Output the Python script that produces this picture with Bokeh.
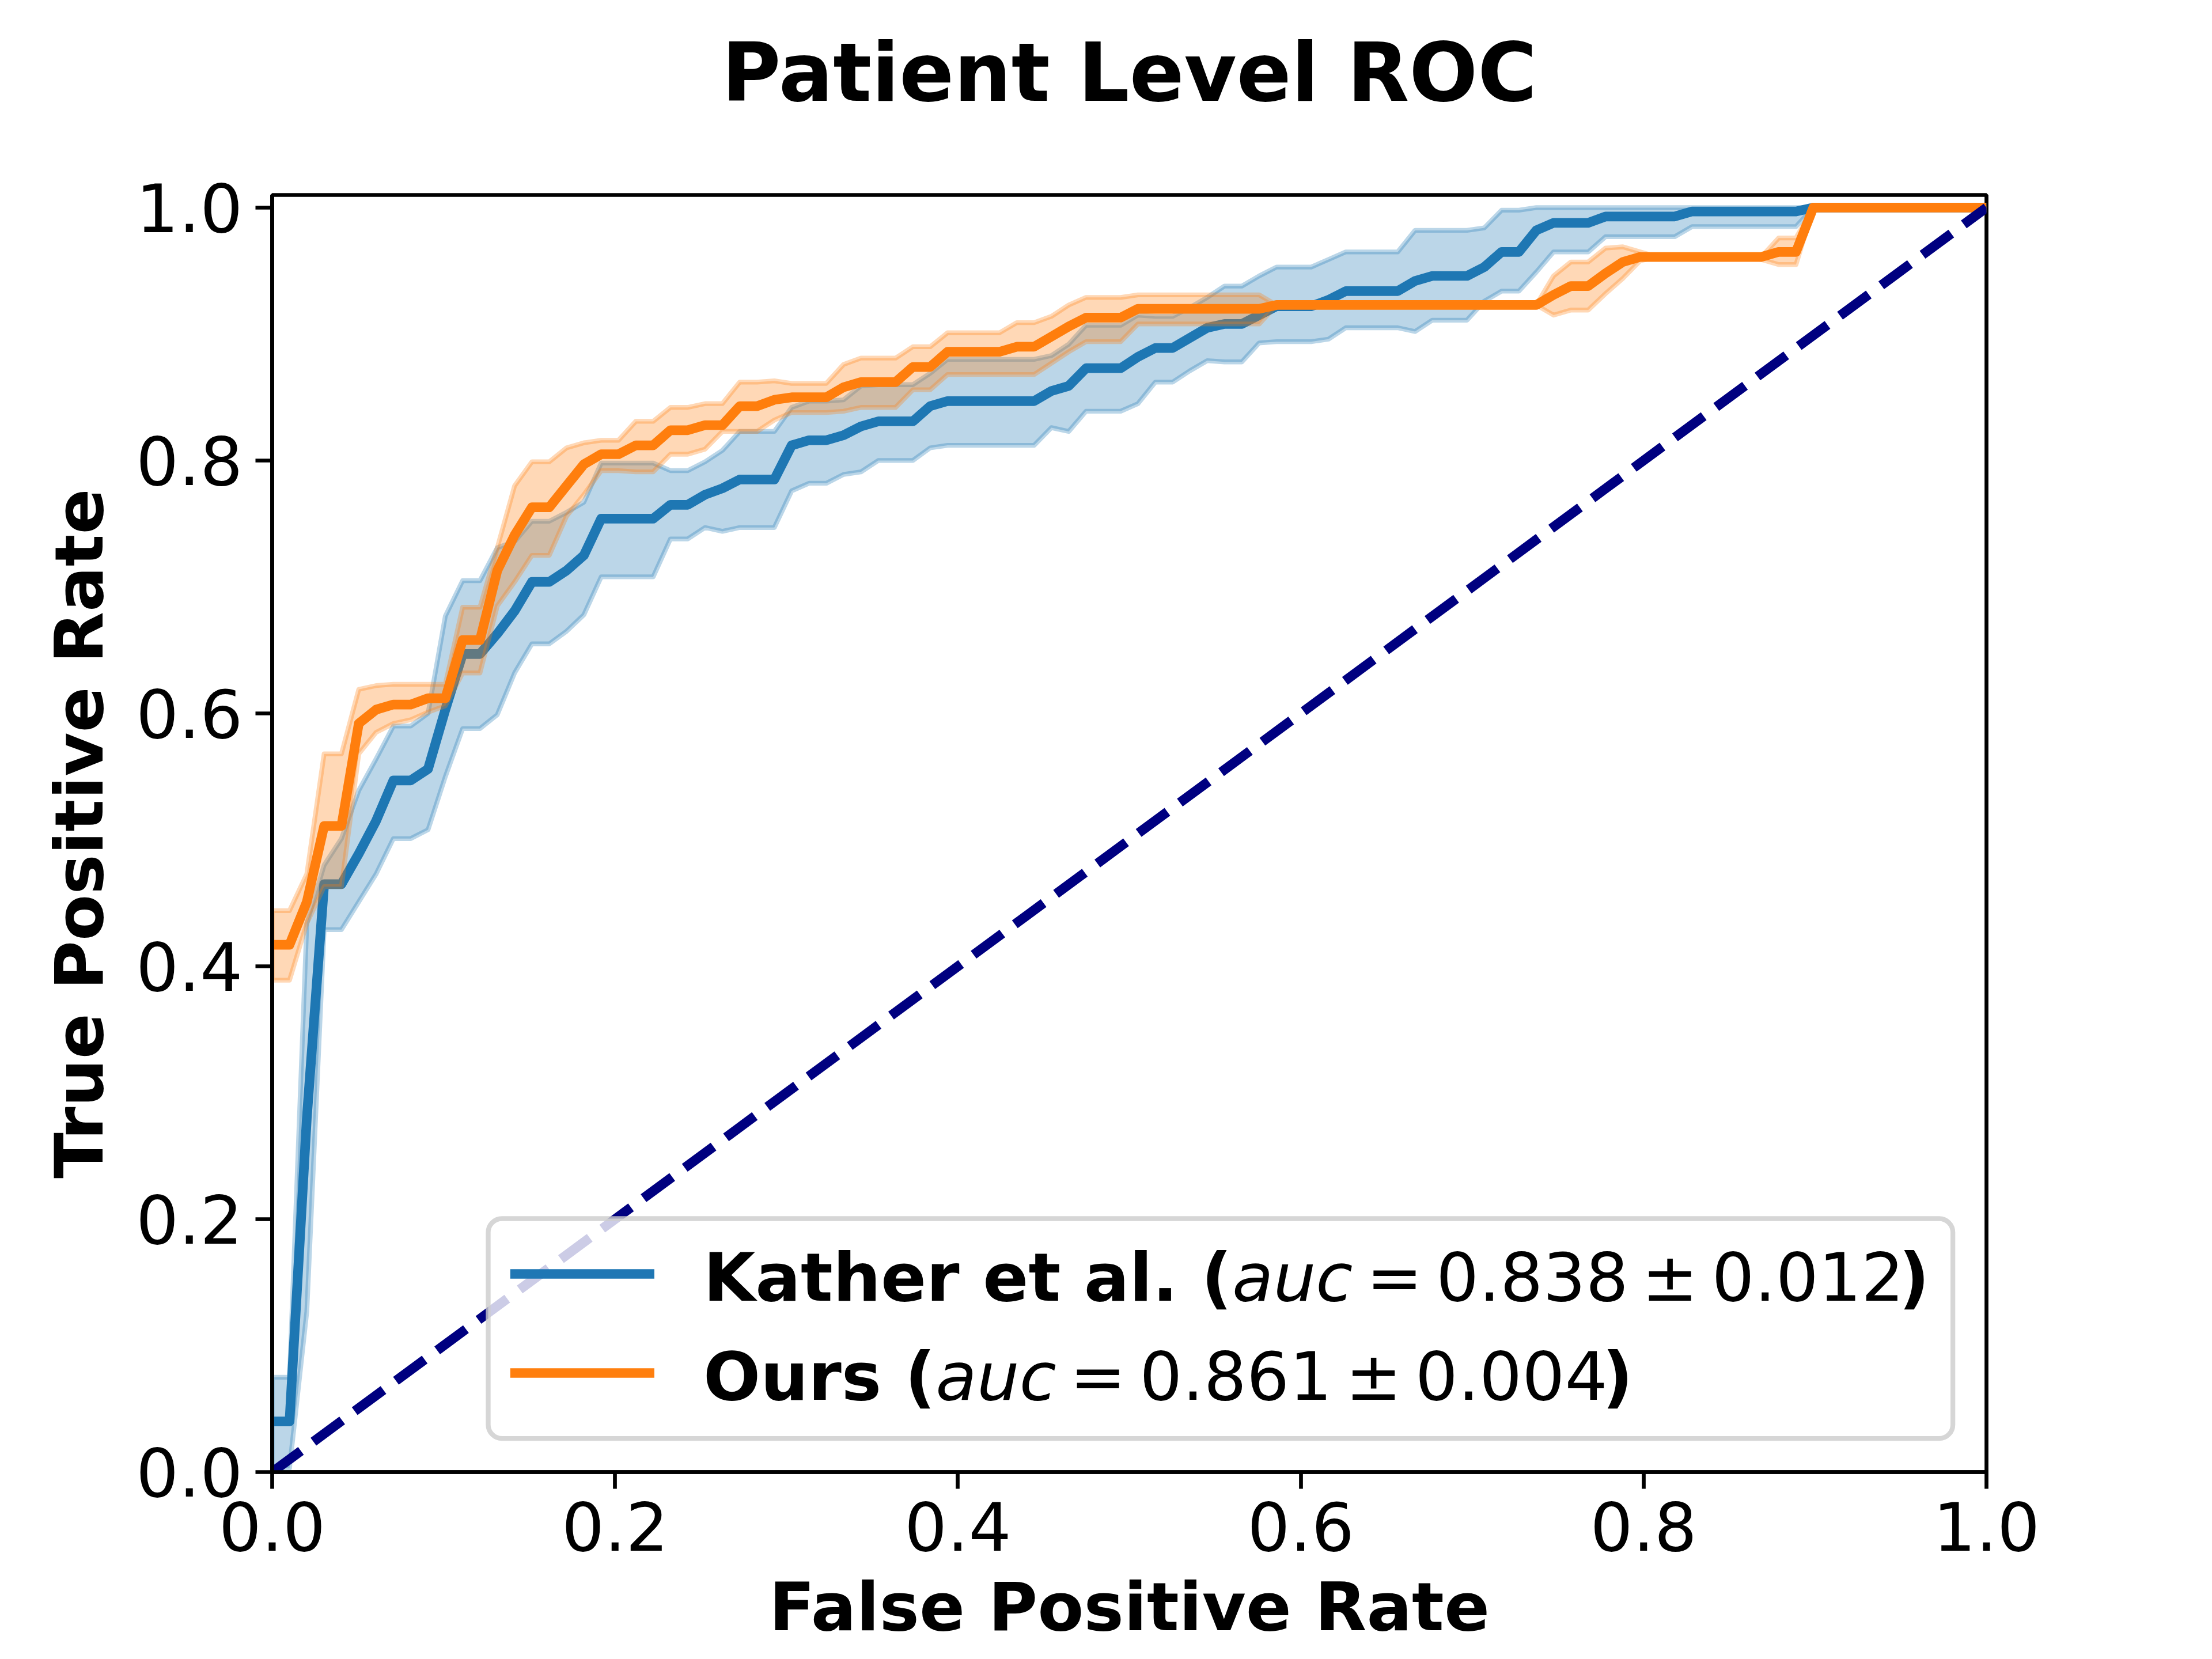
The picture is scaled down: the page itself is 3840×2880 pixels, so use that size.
from bokeh.plotting import figure
from bokeh.layouts import column
from bokeh.models import Range1d, FixedTicker, PrintfTickFormatter, BoxAnnotation
from bokeh.embed import file_html
from bokeh.resources import INLINE
from bokeh.core.properties import value

# ---------------- data ----------------
N_POINTS = 100
FPR = [i / (N_POINTS - 1) for i in range(N_POINTS)]

KATHER_MEAN = (
    [0.040, 0.040, 0.280, 0.465, 0.465, 0.489, 0.515, 0.547, 0.547, 0.556]
    + [0.603, 0.647, 0.647, 0.663, 0.681, 0.704, 0.704, 0.713, 0.725, 0.754]
    + [0.754, 0.754, 0.754, 0.765, 0.765, 0.773, 0.778, 0.785, 0.785, 0.785]
    + [0.812, 0.816, 0.816, 0.820, 0.827, 0.831, 0.831, 0.831, 0.843, 0.847]
    + [0.847, 0.847, 0.847, 0.847, 0.847, 0.855, 0.859, 0.873, 0.873, 0.873]
    + [0.882, 0.889, 0.889, 0.897, 0.905, 0.908, 0.908, 0.915, 0.922, 0.922]
    + [0.922, 0.927, 0.934, 0.934, 0.934, 0.934, 0.942, 0.946, 0.946, 0.946]
    + [0.953, 0.965, 0.965, 0.982, 0.988, 0.988, 0.988, 0.993, 0.993, 0.993]
    + [0.993, 0.993, 0.997, 0.997, 0.997, 0.997, 0.997, 0.997, 0.997, 1.000]
    + [1.000] * 10
)
KATHER_LOWER = (
    [0.003, 0.003, 0.127, 0.429, 0.429, 0.451, 0.473, 0.501, 0.501, 0.508]
    + [0.550, 0.588, 0.588, 0.599, 0.632, 0.655, 0.655, 0.665, 0.678, 0.708]
    + [0.708, 0.708, 0.708, 0.738, 0.738, 0.747, 0.744, 0.747, 0.747, 0.747]
    + [0.776, 0.782, 0.782, 0.789, 0.791, 0.800, 0.800, 0.800, 0.810, 0.812]
    + [0.812, 0.812, 0.812, 0.812, 0.812, 0.826, 0.823, 0.839, 0.839, 0.839]
    + [0.845, 0.862, 0.862, 0.871, 0.879, 0.878, 0.878, 0.893, 0.894, 0.894]
    + [0.894, 0.896, 0.905, 0.905, 0.905, 0.905, 0.902, 0.911, 0.911, 0.911]
    + [0.926, 0.934, 0.934, 0.949, 0.965, 0.965, 0.965, 0.977, 0.977, 0.977]
    + [0.977, 0.977, 0.985, 0.985, 0.985, 0.985, 0.985, 0.985, 0.985, 1.000]
    + [1.000] * 10
)
KATHER_UPPER = (
    [0.075, 0.075, 0.434, 0.480, 0.501, 0.539, 0.564, 0.590, 0.590, 0.600]
    + [0.677, 0.705, 0.705, 0.731, 0.736, 0.752, 0.752, 0.759, 0.767, 0.798]
    + [0.798, 0.798, 0.798, 0.792, 0.792, 0.799, 0.808, 0.823, 0.823, 0.823]
    + [0.842, 0.847, 0.847, 0.848, 0.859, 0.860, 0.860, 0.860, 0.869, 0.880]
    + [0.880, 0.880, 0.880, 0.880, 0.880, 0.883, 0.892, 0.907, 0.907, 0.907]
    + [0.915, 0.914, 0.914, 0.921, 0.929, 0.938, 0.938, 0.946, 0.953, 0.953]
    + [0.953, 0.959, 0.965, 0.965, 0.965, 0.965, 0.982, 0.982, 0.982, 0.982]
    + [0.984, 0.998, 0.998, 1.000, 1.000, 1.000, 1.000, 1.000, 1.000, 1.000]
    + [1.000] * 10
    + [1.000] * 10
)
OURS_MEAN = (
    [0.417, 0.417, 0.451, 0.511, 0.511, 0.592, 0.603, 0.607, 0.607, 0.612]
    + [0.612, 0.658, 0.658, 0.713, 0.741, 0.763, 0.763, 0.780, 0.797, 0.805]
    + [0.805, 0.812, 0.812, 0.824, 0.824, 0.828, 0.828, 0.843, 0.843, 0.848]
    + [0.850, 0.850, 0.850, 0.858, 0.862, 0.862, 0.862, 0.874, 0.874, 0.886]
    + [0.886, 0.886, 0.886, 0.890, 0.890, 0.898, 0.906, 0.913, 0.913, 0.913]
    + [0.920, 0.920, 0.920, 0.920, 0.920, 0.920, 0.920, 0.920, 0.923, 0.923]
    + [0.923] * 10
    + [0.923, 0.923, 0.923, 0.923, 0.931, 0.938, 0.938, 0.948, 0.957, 0.961]
    + [0.961, 0.961, 0.961, 0.961, 0.961, 0.961, 0.961, 0.965, 0.965, 1.000]
    + [1.000] * 10
)
OURS_UPPER = (
    [0.444, 0.444, 0.473, 0.568, 0.568, 0.619, 0.622, 0.623, 0.623, 0.623]
    + [0.623, 0.684, 0.684, 0.731, 0.780, 0.799, 0.799, 0.810, 0.814, 0.816]
    + [0.816, 0.831, 0.831, 0.842, 0.842, 0.845, 0.845, 0.862, 0.862, 0.863]
    + [0.861, 0.861, 0.861, 0.876, 0.881, 0.881, 0.881, 0.890, 0.890, 0.901]
    + [0.901, 0.901, 0.901, 0.909, 0.909, 0.914, 0.923, 0.929, 0.929, 0.929]
    + [0.931, 0.931, 0.931, 0.931, 0.931, 0.931, 0.931, 0.931, 0.923, 0.923]
    + [0.923] * 10
    + [0.923, 0.923, 0.923, 0.923, 0.946, 0.957, 0.957, 0.968, 0.969, 0.965]
    + [0.961, 0.961, 0.961, 0.961, 0.961, 0.961, 0.961, 0.976, 0.976, 1.000]
    + [1.000] * 10
)
OURS_LOWER = (
    [0.389, 0.389, 0.434, 0.463, 0.463, 0.568, 0.585, 0.592, 0.595, 0.601]
    + [0.606, 0.632, 0.632, 0.685, 0.704, 0.725, 0.725, 0.756, 0.773, 0.792]
    + [0.792, 0.791, 0.791, 0.805, 0.805, 0.809, 0.823, 0.823, 0.823, 0.832]
    + [0.838, 0.838, 0.838, 0.839, 0.842, 0.842, 0.842, 0.856, 0.856, 0.868]
    + [0.868, 0.868, 0.868, 0.868, 0.868, 0.877, 0.886, 0.894, 0.894, 0.894]
    + [0.908, 0.908, 0.908, 0.908, 0.908, 0.908, 0.908, 0.908, 0.923, 0.923]
    + [0.923] * 10
    + [0.923, 0.923, 0.923, 0.923, 0.915, 0.919, 0.919, 0.932, 0.944, 0.958]
    + [0.961, 0.961, 0.961, 0.961, 0.961, 0.961, 0.959, 0.955, 0.955, 1.000]
    + [1.000] * 10
)
CHANCE_X = [0.0, 1.0]
CHANCE_Y = [0.0, 1.0]

TICKS = [0.0, 0.2, 0.4, 0.6, 0.8, 1.0]
SERIES_NAMES = ["Kather et al.", "Ours"]
AUC_MEANS = ["0.838", "0.861"]
AUC_STDS = ["0.012", "0.004"]
COLORS = ["#1f77b4", "#ff7f0e"]

TITLE = "Patient Level ROC"
X_LABEL = "False Positive Rate"
Y_LABEL = "True Positive Rate"

# ---------------- layout (pixels; page has an 8px margin) ----------------
W, H = 3824, 2864
TITLE_H = 250                 # strip above the plot holding the title
XLAB_H = 144                  # strip below the plot holding the x label
MAIN_H = H - TITLE_H - XLAB_H
B_LEFT, B_RIGHT = 472, 376
B_TOP = 338 - TITLE_H
B_BOTTOM = MAIN_H - B_TOP - 2217
FRAME_W = W - B_LEFT - B_RIGHT      # 2976
FRAME_H = MAIN_H - B_TOP - B_BOTTOM  # 2217
X_MIN, X_MAX = 0.0, 1.0
Y_MIN, Y_MAX = 0.0, 1.01

FS = 116.7        # 14pt at 600 dpi
FS_TITLE = 140
LW = 16.7         # 2pt line
SPINE = 6.7
FONT = "DejaVu Sans"
BASELINE_FIX = 0.317   # renderer draws alphabetic text this many em lower


def px_to_x(px):
    return X_MIN + px / FRAME_W * (X_MAX - X_MIN)


def px_to_y(py):
    return Y_MIN + py / FRAME_H * (Y_MAX - Y_MIN)


def strip(height):
    f = figure(width=W, height=height, output_backend="svg", toolbar_location=None,
               x_range=Range1d(X_MIN, X_MAX), y_range=Range1d(0, height),
               x_axis_location=None, y_axis_location=None,
               min_border_left=B_LEFT, min_border_right=B_RIGHT,
               min_border_top=0, min_border_bottom=0,
               background_fill_color="white", border_fill_color="white")
    f.outline_line_color = None
    f.grid.visible = False
    return f


# title strip: baseline 170px below the top of the page content
title_fig = strip(TITLE_H)
title_fig.text(x=[0.5 * (X_MIN + X_MAX)], y=[TITLE_H - 170], text=[TITLE],
               y_offset=-BASELINE_FIX * FS_TITLE,
               text_font=value(FONT), text_font_size=value(f"{FS_TITLE}px"),
               text_font_style="bold", text_color="black",
               text_align="center", text_baseline="alphabetic")

# main plot
p = figure(width=W, height=MAIN_H, output_backend="svg", toolbar_location=None,
           x_range=Range1d(X_MIN, X_MAX), y_range=Range1d(Y_MIN, Y_MAX),
           min_border_left=B_LEFT, min_border_right=B_RIGHT,
           min_border_top=B_TOP, min_border_bottom=B_BOTTOM,
           background_fill_color="white", border_fill_color="white")

p.grid.visible = False
p.outline_line_color = "black"
p.outline_line_width = SPINE
p.outline_line_alpha = 1.0

for ax in (p.xaxis[0], p.yaxis[0]):
    ax.ticker = FixedTicker(ticks=TICKS)
    ax.formatter = PrintfTickFormatter(format="%.1f")
    ax.major_label_text_font = FONT
    ax.major_label_text_font_size = f"{FS}px"
    ax.major_label_text_color = "black"
    ax.axis_line_width = SPINE
    ax.axis_line_color = "black"
    ax.major_tick_line_width = SPINE
    ax.major_tick_line_color = "black"
    ax.major_tick_in = 0
    ax.major_tick_out = 29
    ax.minor_tick_in = 0
    ax.minor_tick_out = 0
p.xaxis[0].major_label_standoff = 22
p.yaxis[0].major_label_standoff = 22

ya = p.yaxis[0]
ya.axis_label = Y_LABEL
ya.axis_label_text_font = FONT
ya.axis_label_text_font_size = f"{FS}px"
ya.axis_label_text_font_style = "bold"
ya.axis_label_text_color = "black"
ya.axis_label_standoff = 27

# ---------------- curves ----------------
series = [
    (KATHER_MEAN, KATHER_LOWER, KATHER_UPPER, COLORS[0]),
    (OURS_MEAN, OURS_LOWER, OURS_UPPER, COLORS[1]),
]
for mean, lower, upper, col in series:
    p.line(FPR, mean, line_color=col, line_width=LW, line_join="round")
    p.patch(FPR + FPR[::-1], upper + lower[::-1],
            fill_color=col, fill_alpha=0.3,
            line_color=col, line_alpha=0.3, line_width=8.3, line_join="round")

p.line(CHANCE_X, CHANCE_Y, line_color="navy", line_width=LW, line_dash="62 27")

# ---------------- legend (drawn by hand for mixed fonts) ----------------
box_right = FRAME_W - 0.5 * FS
box_bottom = 0.5 * FS
box_left = 375
box_top = 440
p.add_layout(BoxAnnotation(left=px_to_x(box_left), right=px_to_x(box_right),
                           bottom=px_to_y(box_bottom), top=px_to_y(box_top),
                           fill_color="white", fill_alpha=0.8,
                           line_color="#cccccc", line_alpha=0.8, line_width=8.3,
                           border_radius=24))

handle_x0 = box_left + 0.4 * FS
handle_x1 = handle_x0 + 2.0 * FS
text_x = handle_x1 + 0.8 * FS
row_y = [344, 172]

# DejaVu Sans advance widths in em for the label pieces
EM_BOLD = {"Kather et al. (": 7.866, "Ours (": 3.456}
EM_AUC = 1.797
EM_REST = 8.12

for i, name in enumerate(SERIES_NAMES):
    yy = px_to_y(row_y[i])
    p.segment(x0=[px_to_x(handle_x0)], y0=[yy], x1=[px_to_x(handle_x1)], y1=[yy],
              line_color=COLORS[i], line_width=LW, line_cap="square", level="overlay")
    prefix = name + " ("
    rest = "\u2009=\u2009" + AUC_MEANS[i] + "\u2009\u00b1\u2009" + AUC_STDS[i]
    o1 = EM_BOLD[prefix] * FS
    o2 = o1 + EM_AUC * FS
    o3 = o2 + EM_REST * FS
    pieces = [(prefix, 0, "bold"), ("auc", o1, "italic"), (rest, o2, "normal"), (")", o3, "bold")]
    for txt, off, style in pieces:
        p.text(x=[px_to_x(text_x)], y=[yy], text=[txt], x_offset=off, y_offset=6,
               text_font=value(FONT), text_font_size=value(f"{FS}px"),
               text_font_style=style, text_color="black",
               text_align="left", text_baseline="alphabetic", level="overlay")

# x label strip: baseline kept high enough that the whole text box stays on the page
xlab_fig = strip(XLAB_H)
xlab_fig.text(x=[0.5 * (X_MIN + X_MAX)], y=[38], text=[X_LABEL],
              y_offset=-BASELINE_FIX * FS,
              text_font=value(FONT), text_font_size=value(f"{FS}px"),
              text_font_style="bold", text_color="black",
              text_align="center", text_baseline="alphabetic")

layout = column(title_fig, p, xlab_fig, spacing=0)
open("out.html", "w").write(file_html(layout, INLINE))
